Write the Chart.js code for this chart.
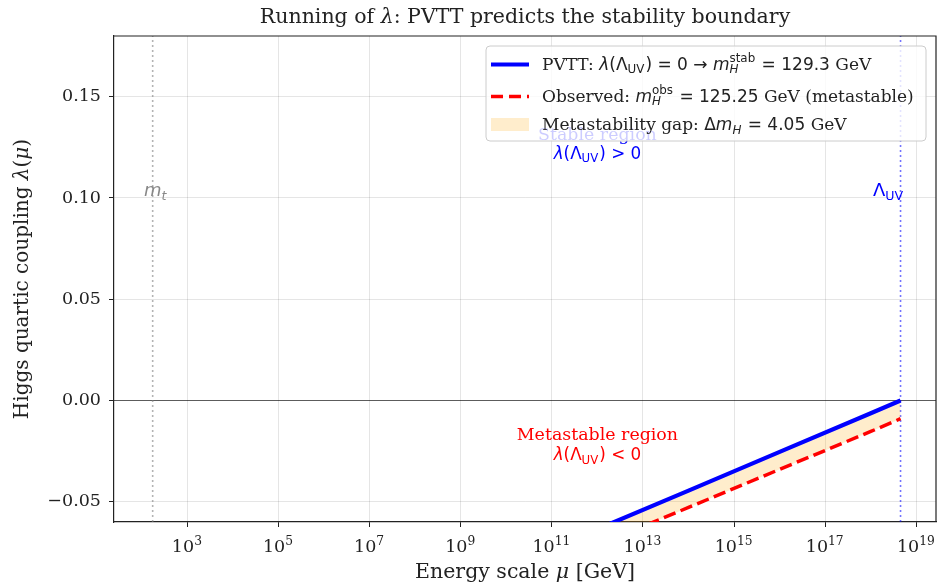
<!DOCTYPE html>
<html lang="en">
<head>
<meta charset="UTF-8" />
<title>Running of lambda</title>
<script src="https://cdn.jsdelivr.net/npm/chart.js"></script>
<style>
  html, body { margin: 0; padding: 0; background: #fff; }
  canvas { display: block; }
</style>
</head>
<body>
<canvas id="lambdaChart" width="939" height="584"></canvas>
<script>
// energy scale (GeV) and the running quartic coupling
const MU = [1e12, 1e14, 1e16, 1e18, 4.5e18];
const LAMBDA_PVTT = [-0.0635, -0.0445, -0.0254, -0.0063, 0.0];
const LAMBDA_OBS = [-0.0715, -0.0528, -0.0340, -0.0153, -0.0090];

const M_TOP = 173;
const LAMBDA_UV_SCALE = 4.5e18;
const X_MIN = 24.5, X_MAX = 2.7e19;
const Y_MIN = -0.06, Y_MAX = 0.18;
const X_TICKS = [1e3, 1e5, 1e7, 1e9, 1e11, 1e13, 1e15, 1e17, 1e19];
const Y_TICKS = [-0.05, 0, 0.05, 0.10, 0.15];

const SERIF = '"DejaVu Serif", serif';
const SANS = '"DejaVu Sans", sans-serif';

// --- little rich text helper (mathtext-ish sub/superscripts) ---
function fontOf(p, size) {
  return (p.it ? 'italic ' : '') + size + 'px ' + (p.f === 'serif' ? SERIF : SANS);
}
function partWidth(ctx, p, size) {
  if (p.sub !== undefined || p.sup !== undefined) {
    const s = size * 0.7;
    let w = 0;
    if (p.sub) { ctx.font = fontOf({ f: p.f, it: p.subIt }, s); w = Math.max(w, ctx.measureText(p.sub).width); }
    if (p.sup) { ctx.font = fontOf({ f: p.f, it: p.supIt }, s); w = Math.max(w, ctx.measureText(p.sup).width); }
    return w + 1;
  }
  ctx.font = fontOf(p, size);
  return ctx.measureText(p.t).width;
}
function drawRich(ctx, parts, x, y, size, color, align) {
  const total = parts.reduce((a, p) => a + partWidth(ctx, p, size), 0);
  let cx = align === 'center' ? x - total / 2 : x;
  ctx.fillStyle = color;
  ctx.textBaseline = 'alphabetic';
  ctx.textAlign = 'left';
  parts.forEach(p => {
    const w = partWidth(ctx, p, size);
    if (p.sub !== undefined || p.sup !== undefined) {
      const s = size * 0.7;
      if (p.sub) { ctx.font = fontOf({ f: p.f, it: p.subIt }, s); ctx.fillText(p.sub, cx, y + size * 0.22); }
      if (p.sup) { ctx.font = fontOf({ f: p.f, it: p.supIt }, s); ctx.fillText(p.sup, cx, y - size * 0.42); }
    } else {
      ctx.font = fontOf(p, size);
      ctx.fillText(p.t, cx, y);
    }
    cx += w;
  });
}

const lamUV = [{ t: 'λ', f: 'sans', it: true }, { t: '(Λ', f: 'sans' }, { sub: 'UV', f: 'sans' }];

const legendRows = [
  { kind: 'line', color: '#0000ff', width: 4, dash: [], cy: 64.5, base: 69.5,
    parts: [{ t: 'PVTT: ', f: 'serif' }, ...lamUV, { t: ') = 0 → ', f: 'sans' },
            { t: 'm', f: 'sans', it: true }, { sub: 'H', sup: 'stab', f: 'sans', subIt: true },
            { t: ' = 129.3 ', f: 'sans' }, { t: 'GeV', f: 'serif' }] },
  { kind: 'line', color: '#ff0000', width: 3.5, dash: [12, 6], cy: 96.5, base: 101.5,
    parts: [{ t: 'Observed: ', f: 'serif' }, { t: 'm', f: 'sans', it: true },
            { sub: 'H', sup: 'obs', f: 'sans', subIt: true }, { t: ' = 125.25 ', f: 'sans' },
            { t: 'GeV (metastable)', f: 'serif' }] },
  { kind: 'box', color: 'rgba(255,165,0,0.2)', cy: 124.5, base: 130,
    parts: [{ t: 'Metastability gap: ', f: 'serif' }, { t: 'Δ', f: 'sans' }, { t: 'm', f: 'sans', it: true },
            { sub: 'H', f: 'sans', subIt: true }, { t: ' = 4.05 ', f: 'sans' }, { t: 'GeV', f: 'serif' }] }
];

const decorations = {
  id: 'decorations',
  afterDatasetsDraw(chart) {
    const { ctx, scales: { x, y } } = chart;
    ctx.save();
    // region labels
    const cx = x.getPixelForValue(1e12);
    drawRich(ctx, [{ t: 'Stable region', f: 'serif' }], cx, y.getPixelForValue(0.1288), 17.4, '#0000ff', 'center');
    drawRich(ctx, [...lamUV, { t: ') > 0', f: 'sans' }], cx, y.getPixelForValue(0.1195), 16.8, '#0000ff', 'center');
    drawRich(ctx, [{ t: 'Metastable region', f: 'serif' }], cx, y.getPixelForValue(-0.0197), 17.4, '#ff0000', 'center');
    drawRich(ctx, [...lamUV, { t: ') < 0', f: 'sans' }], cx, y.getPixelForValue(-0.0296), 16.8, '#ff0000', 'center');
    // vertical line labels
    drawRich(ctx, [{ t: 'm', f: 'sans', it: true }, { sub: 't', f: 'sans', subIt: true }],
      x.getPixelForValue(M_TOP) + 3, y.getPixelForValue(0.10) - 2, 18, '#888888', 'center');
    drawRich(ctx, [{ t: 'Λ', f: 'sans' }, { sub: 'UV', f: 'sans' }],
      x.getPixelForValue(LAMBDA_UV_SCALE) - 12, y.getPixelForValue(0.10) - 2, 18, '#0000ff', 'center');
    ctx.restore();
  },
  afterDraw(chart) {
    const { ctx, chartArea: a, scales: { x } } = chart;
    ctx.save();
    // top and right spines
    ctx.strokeStyle = '#222';
    ctx.lineWidth = 1.2;
    ctx.beginPath();
    ctx.moveTo(a.left, a.top); ctx.lineTo(a.right, a.top); ctx.lineTo(a.right, a.bottom);
    ctx.stroke();

    // x tick labels as 10^n
    X_TICKS.forEach(v => {
      const px = x.getPixelForValue(v);
      const n = String(Math.round(Math.log10(v)));
      drawRich(ctx, [{ t: '10', f: 'serif' }, { sup: n, f: 'serif' }], px, 552, 17.5, '#222', 'center');
    });

    // title and axis labels
    drawRich(ctx, [{ t: 'Running of ', f: 'serif' }, { t: 'λ', f: 'serif', it: true },
      { t: ': PVTT predicts the stability boundary', f: 'serif' }], (a.left + a.right) / 2, 23, 20.5, '#222', 'center');
    drawRich(ctx, [{ t: 'Energy scale ', f: 'serif' }, { t: 'μ', f: 'serif', it: true }, { t: ' [GeV]', f: 'serif' }],
      (a.left + a.right) / 2, 578, 20.5, '#222', 'center');
    ctx.save();
    ctx.translate(28, (a.top + a.bottom) / 2);
    ctx.rotate(-Math.PI / 2);
    drawRich(ctx, [{ t: 'Higgs quartic coupling ', f: 'serif' }, { t: 'λ', f: 'serif', it: true },
      { t: '(', f: 'serif' }, { t: 'μ', f: 'serif', it: true }, { t: ')', f: 'serif' }], 0, 0, 20, '#222', 'center');
    ctx.restore();

    // legend
    const L = 486, T = 46, R = 926, B = 141;
    ctx.beginPath();
    ctx.roundRect(L, T, R - L, B - T, 4);
    ctx.fillStyle = 'rgba(255,255,255,0.8)';
    ctx.fill();
    ctx.strokeStyle = '#cccccc';
    ctx.lineWidth = 1;
    ctx.stroke();
    legendRows.forEach(r => {
      if (r.kind === 'line') {
        ctx.strokeStyle = r.color;
        ctx.lineWidth = r.width;
        ctx.setLineDash(r.dash);
        ctx.beginPath();
        ctx.moveTo(491, r.cy); ctx.lineTo(529, r.cy);
        ctx.stroke();
        ctx.setLineDash([]);
      } else {
        ctx.fillStyle = r.color;
        ctx.fillRect(491, r.cy - 6.5, 38, 13);
      }
      drawRich(ctx, r.parts, 542, r.base, 17, '#222', 'left');
    });
    ctx.restore();
  }
};

const pts = ys => MU.map((m, i) => ({ x: m, y: ys[i] }));

new Chart(document.getElementById('lambdaChart'), {
  type: 'line',
  data: {
    datasets: [
      { label: 'PVTT', data: pts(LAMBDA_PVTT), borderColor: '#0000ff', borderWidth: 4.2,
        pointRadius: 0, fill: false, clip: 0 },
      { label: 'Observed', data: pts(LAMBDA_OBS), borderColor: '#ff0000', borderWidth: 3.5,
        borderDash: [12.5, 5.5], pointRadius: 0, clip: 0,
        fill: '-1', backgroundColor: 'rgba(255,165,0,0.2)' },
      { label: 'UV', data: [{ x: LAMBDA_UV_SCALE, y: Y_MIN }, { x: LAMBDA_UV_SCALE, y: Y_MAX }],
        borderColor: 'rgba(0,0,255,0.55)', borderWidth: 1.6, borderDash: [2, 3], pointRadius: 0, fill: false, clip: 0 },
      { label: 'mt', data: [{ x: M_TOP, y: Y_MIN }, { x: M_TOP, y: Y_MAX }],
        borderColor: 'rgba(128,128,128,0.6)', borderWidth: 1.6, borderDash: [2, 3], pointRadius: 0, fill: false, clip: 0 },
      { label: 'zero', data: [{ x: X_MIN, y: 0 }, { x: X_MAX, y: 0 }],
        borderColor: 'rgba(0,0,0,0.6)', borderWidth: 1, pointRadius: 0, fill: false, clip: 0 }
    ]
  },
  options: {
    responsive: false,
    animation: false,
    devicePixelRatio: 1,
    layout: { padding: { left: 0, top: 36, right: 3, bottom: 0 } },
    plugins: { legend: { display: false }, tooltip: { enabled: false } },
    elements: { line: { tension: 0 } },
    scales: {
      x: {
        type: 'logarithmic',
        min: X_MIN, max: X_MAX,
        afterBuildTicks: s => { s.ticks = X_TICKS.map(v => ({ value: v })); },
        afterFit: s => { s.height = 62; },
        ticks: { display: false },
        grid: { color: 'rgba(0,0,0,0.1)', lineWidth: 1, tickColor: '#222', tickLength: 5 },
        border: { color: '#222', width: 1.2 }
      },
      y: {
        min: Y_MIN, max: Y_MAX,
        afterBuildTicks: s => { s.ticks = Y_TICKS.map(v => ({ value: v })); },
        afterFit: s => { s.width = 114; },
        ticks: {
          autoSkip: false, padding: 8, color: '#222',
          font: { family: 'DejaVu Serif', size: 17.5 },
          callback: v => (v < 0 ? '−' : '') + Math.abs(v).toFixed(2)
        },
        grid: { color: 'rgba(0,0,0,0.1)', lineWidth: 1, tickColor: '#222', tickLength: 5 },
        border: { color: '#222', width: 1.2 }
      }
    }
  },
  plugins: [decorations]
});
</script>
</body>
</html>
